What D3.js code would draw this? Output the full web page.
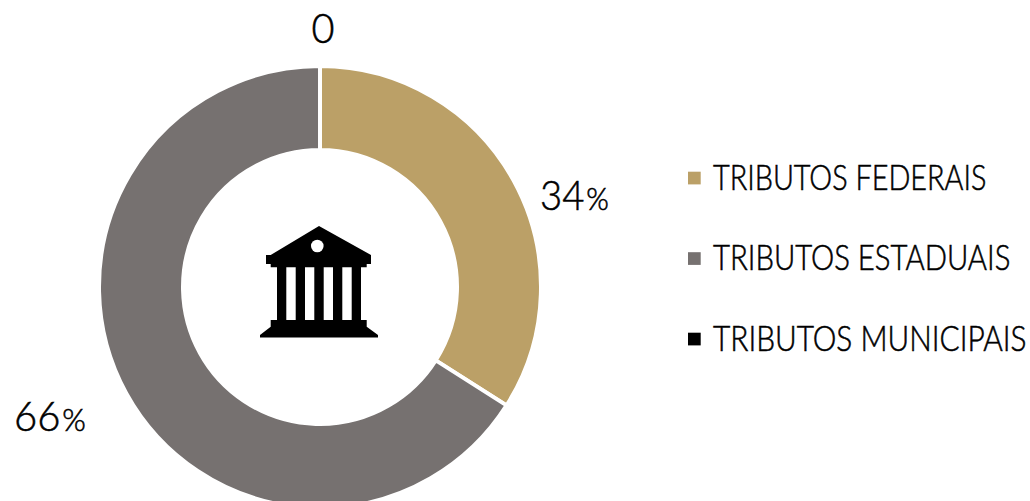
<!DOCTYPE html>
<html><head><meta charset="utf-8">
<script src="https://cdn.jsdelivr.net/npm/d3@7"></script>
<style>html,body{margin:0;padding:0;background:#fff}svg{display:block}text{font-family:Lato,sans-serif;font-weight:300;fill:#000;stroke:#000;stroke-width:.55px}</style>
</head><body><svg id="c" width="1030" height="501"></svg>
<script>
const categories = ["TRIBUTOS FEDERAIS","TRIBUTOS ESTADUAIS","TRIBUTOS MUNICIPAIS"];
const values = [34,66,0];
const valueLabels = ["34%","66%","0"];
const colors = ["#BBA067","#767170","#000000"];

const svg = d3.select("#c");
const cx=320, cy=287, gap=3.8, outer=219+gap/2, inner=139-gap/2;
const color = d3.scaleOrdinal(categories, colors);
const pie = d3.pie().sort(null).value(d=>d.v);
const arc = d3.arc().innerRadius(inner).outerRadius(outer);
const rows = categories.map((c,i)=>({c,v:values[i],l:valueLabels[i]}));
const g = svg.append("g").attr("transform",`translate(${cx},${cy})`);
g.selectAll("path").data(pie(rows)).join("path")
 .attr("d",arc).attr("fill",d=>color(d.data.c))
 .attr("stroke","#fff").attr("stroke-width",gap);

// squeeze a text horizontally to a target width, keeping its real box
function fit(t,x,y,w){
  const n=t.node().getComputedTextLength();
  t.attr("transform",`translate(${x},${y}) scale(${w/n},1)`);
}

// value labels: left edge, baseline, width
const labelLayout = [{x:540,y:210,w:67},{x:14,y:431,w:70},{x:311.5,y:43,w:23}];
rows.forEach((r,i)=>{
  const L = labelLayout[i], m = r.l.match(/^(\d+)(%?)$/);
  const t = svg.append("text");
  t.append("tspan").attr("font-size",41).text(m[1]);
  if(m[2]) t.append("tspan").attr("font-size",31).attr("dx",2).text("%");
  fit(t,L.x,L.y,L.w);
});

// legend
const legendY = d3.scalePoint().domain(categories).range([178,339]);
const legendW = [273.5,297.5,313.5];
const leg = svg.selectAll("g.leg").data(categories).join("g").attr("class","leg");
leg.append("rect").attr("x",688).attr("y",c=>legendY(c)-6.3).attr("width",12.7).attr("height",12.7).attr("fill",c=>color(c));
leg.append("text").attr("font-size",34.5).text(c=>c)
 .each(function(c,i){ fit(d3.select(this),713,legendY(c)+11.6,legendW[i]); });

// building icon
const icon = svg.append("g").attr("fill","#000");
icon.append("path").attr("fill-rule","evenodd").attr("d",
 "M319 226L371 255V264H366.7V267.3H361V320H366.7V326.7L378 335V337.5H260V335L270.7 326.7V320H277V267.3H270.7V264H266V255H270.7Z"+
 "M286.3 267.3V320H295.7V267.3ZM305 267.3V320H314.3V267.3ZM323.7 267.3V320H333V267.3ZM342.3 267.3V320H351.7V267.3Z");
icon.append("circle").attr("cx",317.3).attr("cy",246).attr("r",6.3).attr("fill","#fff");
</script></body></html>
